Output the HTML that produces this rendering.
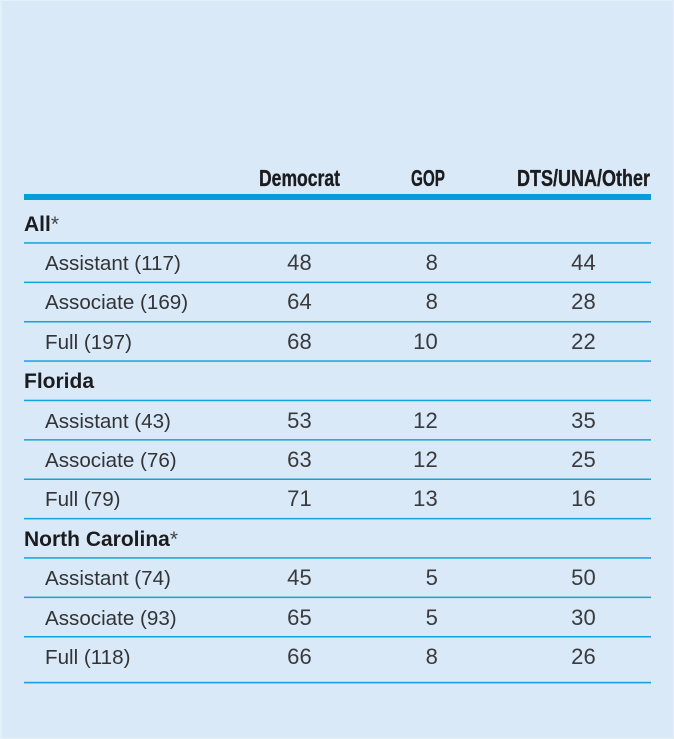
<!DOCTYPE html>
<html lang="en">
<head>
<meta charset="utf-8">
<title>Faculty party registration by rank</title>
<style>
html,body{margin:0;padding:0}
body{width:674px;height:739px;overflow:hidden;background:#e3eff9}
#panel{position:absolute;left:2px;top:1px;width:671px;height:737px;background:#d9e9f8;font-family:"Liberation Sans",sans-serif;color:#333335}
#stage{position:absolute;left:-2px;top:-1px;width:674px;height:739px}
.row{position:absolute;left:0;width:674px;height:28px;line-height:28px;font-size:20.6px}
.label{position:absolute;left:45px;top:1px;white-space:nowrap}
.group{position:absolute;left:24px;top:1px;white-space:nowrap;font-weight:bold;font-size:21px;color:#1c1c1e}
.group span{font-weight:normal;color:#444}
.n{position:absolute;text-align:right;width:60px;font-size:22px;letter-spacing:.2px;color:#3a3a3c}
.c1{left:252px}.c2{left:378px}.c3{left:536px}
#rules{position:absolute;left:0;top:0}
#rules rect{fill:#14a3dc}
#head{position:absolute;left:0;top:0}
#head text{font-family:"Liberation Sans",sans-serif;font-weight:bold;font-size:23px;fill:#1c1c1e;stroke:#1c1c1e;stroke-width:.35px}
</style>
</head>
<body>
<div id="panel">
<div id="stage">
<svg id="head" width="674" height="200">
<text x="259" y="186" textLength="81" lengthAdjust="spacingAndGlyphs">Democrat</text>
<text x="411" y="186" textLength="34" lengthAdjust="spacingAndGlyphs">GOP</text>
<text x="517" y="186" textLength="133" lengthAdjust="spacingAndGlyphs">DTS/UNA/Other</text>
</svg>
<svg id="rules" width="674" height="739">
<rect x="24" y="194" width="627" height="6" style="fill:#069bd9"/>
<rect x="24" y="242.2" width="627" height="1.5"/>
<rect x="24" y="281.6" width="627" height="1.5"/>
<rect x="24" y="321" width="627" height="1.5"/>
<rect x="24" y="360.3" width="627" height="1.5"/>
<rect x="24" y="399.7" width="627" height="1.5"/>
<rect x="24" y="439.1" width="627" height="1.5"/>
<rect x="24" y="478.5" width="627" height="1.5"/>
<rect x="24" y="517.9" width="627" height="1.5"/>
<rect x="24" y="557.2" width="627" height="1.5"/>
<rect x="24" y="596.6" width="627" height="1.5"/>
<rect x="24" y="636" width="627" height="1.5"/>
<rect x="24" y="681.8" width="627" height="1.6" style="fill:#1a9be2"/>
</svg>

<div class="row" style="top:210px"><div class="group">All<span>*</span></div></div>

<div class="row" style="top:249px"><div class="label">Assistant (117)</div><div class="n c1">48</div><div class="n c2">8</div><div class="n c3">44</div></div>

<div class="row" style="top:288px"><div class="label">Associate (169)</div><div class="n c1">64</div><div class="n c2">8</div><div class="n c3">28</div></div>

<div class="row" style="top:328px"><div class="label">Full (197)</div><div class="n c1">68</div><div class="n c2">10</div><div class="n c3">22</div></div>

<div class="row" style="top:367px"><div class="group">Florida</div></div>

<div class="row" style="top:407px"><div class="label">Assistant (43)</div><div class="n c1">53</div><div class="n c2">12</div><div class="n c3">35</div></div>

<div class="row" style="top:446px"><div class="label">Associate (76)</div><div class="n c1">63</div><div class="n c2">12</div><div class="n c3">25</div></div>

<div class="row" style="top:485px"><div class="label">Full (79)</div><div class="n c1">71</div><div class="n c2">13</div><div class="n c3">16</div></div>

<div class="row" style="top:525px"><div class="group">North Carolina<span>*</span></div></div>

<div class="row" style="top:564px"><div class="label">Assistant (74)</div><div class="n c1">45</div><div class="n c2">5</div><div class="n c3">50</div></div>

<div class="row" style="top:604px"><div class="label">Associate (93)</div><div class="n c1">65</div><div class="n c2">5</div><div class="n c3">30</div></div>

<div class="row" style="top:643px"><div class="label">Full (118)</div><div class="n c1">66</div><div class="n c2">8</div><div class="n c3">26</div></div>
</div>
</div>
</body>
</html>
